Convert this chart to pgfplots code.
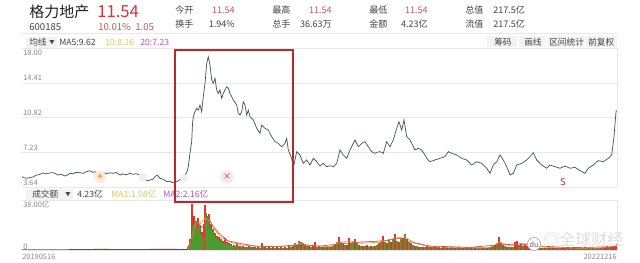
\documentclass[border=0pt]{standalone}
\usepackage{pgfplots}
\pgfplotsset{compat=1.18}
\usepackage{fontspec}
\setmainfont{Noto Sans CJK SC}
\definecolor{pline}{HTML}{4A5560}
\definecolor{gridc}{HTML}{E8E8E8}
\definecolor{titlec}{HTML}{222222}
\definecolor{bigred}{HTML}{D0363C}
\definecolor{valred}{HTML}{C8555C}
\definecolor{labc}{HTML}{444444}
\definecolor{tickc}{HTML}{8A8A8A}
\definecolor{ma10}{HTML}{D6CC5A}
\definecolor{ma20}{HTML}{B356C2}
\definecolor{rectc}{HTML}{B8282E}
\definecolor{volred}{HTML}{DA3A2C}
\definecolor{volgreen}{HTML}{4E9A2C}
\definecolor{maor}{HTML}{E8A040}
\definecolor{mard}{HTML}{D0504A}
\definecolor{btn}{HTML}{F3F3F3}
\newcommand{\fs}[1]{\fontsize{#1}{#1}\selectfont}
\begin{document}
\begin{tikzpicture}
\useasboundingbox (0,0) rectangle (480pt,197.25pt);
\fill[white] (0,0) rectangle (480pt,197.25pt);

% price panel
\begin{axis}[at={(16.5pt,57pt)}, anchor=south west, scale only axis,
  width=446.25pt, height=104pt, xmin=22, xmax=617, ymin=3.64, ymax=18,
  axis line style={draw=none}, xtick=\empty,
  ytick={3.64,7.23,10.82,14.41,18}, yticklabels={},
  ymajorgrids, major grid style={gridc, line width=0.6pt},
  major tick length=0pt, clip=false]
\addplot[pline, line width=0.55pt] coordinates {
(22,4.71)(24,4.6)(26.7,4.54)(30,4.62)(33,4.67)(36,4.85)(40,4.95)(43,5.09)(46,5.0)(50,5.1)(53,5.12)(56,5.0)(58,4.88)(61,4.95)(65,4.78)(68,4.9)(70,5.06)(73,5.0)(76,5.15)(80,5.12)(83,5.05)(86,5.2)(90,5.33)(93,5.15)(95,5.22)(98,5.1)(100,5.06)(103,5.15)(106,5.0)(110,5.12)(113,5.05)(116,5.15)(120,4.88)(123,5.0)(126,4.9)(130,5.06)(133,4.95)(136,5.02)(140,4.88)(143,4.44)(146,4.35)(148,4.29)(151,4.4)(153,4.44)(155,4.7)(157,4.88)(160,4.54)(163,4.45)(167,4.19)(170,4.25)(172,4.09)(175,4.2)(177,4.19)(180,4.4)(182,4.64)(185,4.88)(187,5.22)(188.3,5.74)(190,7.16)(191.7,8.33)(192.5,10.2)(193.3,10.92)(195,11.44)(196.7,11.79)(198.3,11.61)(200,12.13)(201.7,11.44)(203.3,12.99)(205,14.37)(206.7,16.45)(208.3,17.13)(210,16.27)(211.7,14.72)(213.3,14.37)(215,14.89)(216.7,13.68)(218.3,13.34)(220,13.68)(221.7,12.82)(223.3,13.34)(225,13.68)(226.7,14.02)(228.3,13.86)(230,13.34)(231.7,12.99)(233.3,12.65)(236.7,12.13)(238.3,11.27)(240,11.09)(241.7,11.44)(243.3,12.47)(245,12.13)(246.7,11.09)(248.3,11.61)(250,10.92)(253.3,10.58)(256.7,9.72)(260,9.2)(261.7,10.06)(265,9.72)(268.3,9.54)(271.7,8.85)(275,8.33)(278.3,8.16)(281.7,7.81)(285,8.16)(286.7,8.68)(288.3,7.47)(291.7,6.61)(293.3,5.58)(295,6.44)(296.7,7.3)(300,6.95)(303.3,6.09)(306.7,6.44)(310,5.92)(313.3,6.61)(316.7,6.26)(320,5.81)(323.3,6.09)(326.7,5.74)(330,5.85)(333.3,5.74)(336.7,6.09)(340,7.47)(343.3,6.95)(346.7,6.61)(350,7.47)(353.3,8.16)(355,8.51)(358.3,7.81)(361.7,8.16)(365,8.33)(368.3,7.81)(371.7,7.3)(375,7.13)(377.5,7.25)(380,7.3)(383.3,7.13)(386.7,8.33)(390,7.81)(393.3,8.51)(396.7,9.72)(399,10.4)(401.7,9.54)(404,10.58)(406.7,8.85)(410,8.51)(412.5,8.0)(415,7.47)(418.3,7.64)(421.7,7.47)(425,6.95)(427.5,6.5)(430,6.26)(435,6.44)(440,6.61)(445,6.78)(448.3,7.3)(451.7,7.13)(456.7,6.95)(461.7,6.61)(466.7,6.44)(471.7,5.92)(476.7,6.26)(481.7,6.09)(486.7,5.58)(490,5.06)(493.3,5.92)(496.7,6.26)(500,6.95)(503.3,6.44)(506.7,5.74)(510,4.88)(513.3,5.06)(516.7,5.92)(521.7,6.09)(526.7,6.44)(530,6.78)(533.3,7.19)(536.7,6.44)(541.7,5.92)(546.7,5.58)(550,5.92)(555,5.74)(560,5.58)(565,5.81)(570,5.58)(575,5.68)(580,5.33)(585,5.06)(588.3,5.58)(593.3,5.92)(598.3,6.37)(603.3,6.26)(608.3,6.61)(611.7,6.95)(614,8.85)(616,11.44)(617,11.54)};
\end{axis}

% volume panel
\begin{axis}[at={(16.5pt,9.75pt)}, anchor=south west, scale only axis,
  width=446.25pt, height=37.5pt, xmin=22, xmax=617, ymin=0, ymax=38,
  axis line style={draw=none}, xtick=\empty,
  ytick={0,38}, yticklabels={},
  ymajorgrids, major grid style={gridc, line width=0.6pt},
  major tick length=0pt, clip=false]
\addplot[fill=volred!80!black, draw=none] coordinates {(22,0)(22,0.4)(60,0.5)(100,0.8)(140,0.6)(160,0.9)(185,0.7)(200,1.2)(300,1.5)(450,1.2)(617,1.5)(617,0)} \closedcycle;
\addplot[fill=volgreen!90, draw=none] coordinates {(290,0)(290,1.5)(300,3)(320,2)(340,3)(360,2.5)(380,3)(400,3.5)(420,1.8)(440,1.5)(480,1.2)(495,2.5)(505,2.5)(520,2)(540,1.5)(560,1)(560,0)} \closedcycle;
\addplot[ycomb, draw=volred, line width=1.45pt] coordinates {
(188,2)(190,8)(192,35)(194,26)(196,22)(198,24)(200,19)(202,14)(204,20)(205,34)(207,26)(209,27)(211,20)(213,16)(215,13)(217,11)(219,10)(221,8)(223,7)(225,9)(227,6)(229,5)(231,4.5)(234,4)(237,5)(240,3)(243,3)(246,2.5)(249,3)(252,2.5)(255,2)(258,2)(262,5)(265,2)(269,2)(273,2)(277,2)(281,2)(285,2.5)(289,4)(293,3)(297,4)(301,6)(305,4)(309,3)(313,3)(315,6)(319,3)(323,2.5)(327,2)(331,2)(335,4)(339,9.5)(343,5)(347,4)(349,9)(355,8)(359,4)(363,3)(367,4)(371,3)(375,3)(379,5)(383,10.5)(387,5)(391,6)(395,12)(399,6)(403,9)(407,8)(411,5)(415,3)(419,2.5)(423,2)(427,3)(431,2)(435,3)(439,2)(443,3)(447,2)(451,2)(455,1.5)(459,2)(463,1.2)(467,1.2)(471,1.2)(475,1.2)(479,1)(483,1.2)(487,1.5)(491,2)(495,4)(499,9.5)(503,4)(507,2)(511,1.5)(515,6)(517,6.5)(521,5)(525,4)(527,3)(529,5)(533,6)(537,2)(541,1.5)(545,1.5)(549,1.2)(553,1.2)(557,1.2)(561,1.5)(565,1.2)(569,1)(573,1)(577,1.2)(581,1.5)(585,2.5)(589,1.5)(593,1.5)(597,1.5)(601,1.5)(605,2)(607,3)(611,2.5)(613,2)(615,4)(616.5,4.23)};
\addplot[ycomb, draw=volgreen, line width=1.45pt] coordinates {
(189,4)(191,5)(193,18)(195,20)(197,16)(199,18)(201,12)(203,9)(206,28)(208,22)(210,17)(212,15)(214,12)(216,9)(218,8)(220,6)(222,6)(224,5)(226,5)(228,4)(230,3.5)(232,3)(235,3)(238,3)(241,2.5)(244,2)(247,2)(250,2)(253,2)(256,1.5)(260,1.5)(263,2)(267,1.5)(271,1.5)(275,1.5)(279,1.5)(283,1.5)(287,1.5)(291,2)(295,5)(299,7)(303,5)(307,3)(311,2)(317,2)(321,2)(325,2)(329,2)(333,3)(337,6)(341,6)(345,4)(351,5)(353,6)(357,5)(361,3)(365,3)(369,2.5)(373,2.5)(377,4)(381,7)(385,6)(389,8)(393,8)(397,7)(401,8)(405,12.5)(409,6)(413,4)(417,3)(421,2)(425,2)(429,2)(433,2)(437,2)(441,1.5)(445,2)(449,1.5)(453,1.5)(457,1.5)(461,1.5)(465,1.5)(469,1.2)(473,1)(477,1)(481,1)(485,1)(489,2)(493,3)(497,5)(501,6)(505,3)(509,2)(513,2)(519,4)(523,3)(531,4)(535,3)(539,2)(543,1.5)(547,1.2)(551,1)(555,1)(559,1.2)(563,1)(567,1)(571,1.2)(575,1)(579,1)(583,1)(587,1.2)(591,1.2)(595,1.5)(599,1.2)(603,2)(609,2)};
\addplot[maor, line width=0.5pt] coordinates {(188,1)(192,10)(196,21)(200,20)(205,24)(210,22)(215,15)(220,10)(230,6)(240,4)(260,2.5)(290,3)(300,5)(310,3.5)(330,2.5)(340,6)(350,7)(360,5)(380,6)(395,9)(405,10)(415,5)(430,2.5)(460,1.8)(490,2)(500,6)(510,3)(520,5)(530,4.5)(545,2)(580,1.3)(600,1.6)(617,3)};
\addplot[mard, line width=0.5pt] coordinates {(188,1)(193,14)(198,20)(203,17)(208,25)(213,18)(220,12)(228,7)(240,5)(255,3)(275,2.5)(300,4)(320,3)(345,5)(360,6)(385,7)(400,9)(412,6)(430,3)(470,2)(500,4)(520,4.5)(540,3)(570,1.8)(617,2.5)};
\end{axis}

% overlay in pixel coordinates
\begin{scope}[x=0.75pt, y=-0.75pt, shift={(0pt,197.25pt)}]
% borders
\draw[gridc, line width=0.5pt] (22,33) -- (617,33);
\draw[gridc, line width=0.6pt] (22,48.3) -- (617,48.3);
\draw[gridc, line width=0.6pt] (617,48.3) -- (617,187);
\draw[gridc, line width=0.6pt] (617,200) -- (617,250);
% header
\node[anchor=west, inner sep=0, text=titlec, font=\fs{11.25}] at (29,11.5) {格力地产};
\node[anchor=west, inner sep=0, text=bigred, font=\fs{12.5}] at (97,11.5) {11.54};
\node[anchor=west, inner sep=0, text=labc, font=\fs{7.2}] at (29,27) {600185};
\node[anchor=west, inner sep=0, text=valred, font=\fs{7.2}] at (98,27) {10.01\%};
\node[anchor=west, inner sep=0, text=valred, font=\fs{7.2}] at (135,27) {1.05};
\foreach \lab/\xx/\yy in {今开/175/10.5, 换手/175/24.5, 最高/272/10.5, 总手/272/24.5, 最低/369/10.5, 金额/369/24.5, 总值/465/10.5, 流值/465/24.5}
  \node[anchor=west, inner sep=0, text=labc, font=\fs{6.8}] at (\xx,\yy) {\lab};
\node[anchor=east, inner sep=0, text=valred, font=\fs{6.8}] at (235,10.5) {11.54};
\node[anchor=east, inner sep=0, text=labc, font=\fs{6.8}] at (235,24.5) {1.94\%};
\node[anchor=east, inner sep=0, text=valred, font=\fs{6.8}] at (332,10.5) {11.54};
\node[anchor=east, inner sep=0, text=labc, font=\fs{6.8}] at (332,24.5) {36.63万};
\node[anchor=east, inner sep=0, text=valred, font=\fs{6.8}] at (428,10.5) {11.54};
\node[anchor=east, inner sep=0, text=labc, font=\fs{6.8}] at (428,24.5) {4.23亿};
\node[anchor=west, inner sep=0, text=labc, font=\fs{6.8}] at (493,10.5) {217.5亿};
\node[anchor=west, inner sep=0, text=labc, font=\fs{6.8}] at (493,24.5) {217.5亿};
% control row
\fill[btn] (26,37) rectangle (57,48);
\node[anchor=west, inner sep=0, text=labc, font=\fs{6.5}] at (29,42.5) {均线};
\node[inner sep=0, text=labc, font=\fs{4}] at (52,42.5) {▼};
\node[anchor=west, inner sep=0, text=labc, font=\fs{6.5}] at (59,42.5) {MA5:9.62};
\node[anchor=west, inner sep=0, text=ma10, font=\fs{6.5}] at (105,42.5) {10:8.16};
\node[anchor=west, inner sep=0, text=ma20, font=\fs{6.5}] at (140,42.5) {20:7.23};
\fill[btn] (487,36) rectangle (617,47.5);
\draw[white, line width=0.8pt] (518,36) -- (518,47.5) (546,36) -- (546,47.5) (585,36) -- (585,47.5);
\node[anchor=west, inner sep=0, text=labc, font=\fs{6.5}] at (494,41.8) {筹码};
\node[anchor=west, inner sep=0, text=labc, font=\fs{6.5}] at (524,41.8) {画线};
\node[anchor=west, inner sep=0, text=labc, font=\fs{6.5}] at (549,41.8) {区间统计};
\node[anchor=west, inner sep=0, text=labc, font=\fs{6.5}] at (588,41.8) {前复权};
% price tick labels
\node[anchor=west, inner sep=0, text=tickc, font=\fs{5.6}] at (23,53.3) {18.00};
\node[anchor=west, inner sep=0, text=tickc, font=\fs{5.6}] at (23,78.3) {14.41};
\node[anchor=west, inner sep=0, text=tickc, font=\fs{5.6}] at (23,112.7) {10.82};
\node[anchor=west, inner sep=0, text=tickc, font=\fs{5.6}] at (23,147.7) {7.23};
\node[anchor=west, inner sep=0, text=tickc, font=\fs{5.6}] at (23,183) {3.64};
% markers on price line
\fill[orange!15] (100,177) circle (6);
\node[inner sep=0, text=orange!80!red, font=\fs{8}] at (100,177) {+};
\fill[black!6] (143,177) circle (4.5);
\fill[black!6] (184,178) circle (4);
\fill[red!10] (227,177) circle (6.5);
\node[inner sep=0, text=black!70, font=\fs{6}] at (227,177) {×};
\node[inner sep=0, text=rectc, font=\fs{7}] at (563,182) {S};
% volume header
\fill[btn] (26,189.5) rectangle (73,200);
\node[anchor=west, inner sep=0, text=labc, font=\fs{6.5}] at (32,194.5) {成交额};
\node[inner sep=0, text=labc, font=\fs{4}] at (68,194.5) {▼};
\node[anchor=west, inner sep=0, text=labc, font=\fs{6.5}] at (77,194.5) {4.23亿};
\node[anchor=west, inner sep=0, text=ma10, font=\fs{6.5}] at (111,194.5) {MA1:1.08亿};
\node[anchor=west, inner sep=0, text=ma20, font=\fs{6.5}] at (163,194.5) {MA2:2.16亿};
\node[anchor=west, inner sep=0, text=tickc, font=\fs{5.6}] at (23,204.5) {38.00亿};
\node[anchor=west, inner sep=0, text=tickc, font=\fs{5.6}] at (23,246.5) {0};
\node[anchor=west, inner sep=0, text=tickc, font=\fs{5.6}] at (22,256.5) {20190516};
\node[anchor=east, inner sep=0, text=tickc, font=\fs{5.6}] at (617,256.5) {20221216};
% watermark
\draw[black!35, line width=0.5pt, fill=white] (534,244) circle (6.5);
\node[inner sep=0, text=black!60, font=\fs{5.5}] at (534,244.5) {du};
\node[anchor=west, inner sep=0, text=black!13, font=\fs{12}] at (543,239) {◎全球财经};
% red highlight rectangle
\draw[rectc, line width=1.1pt] (175,50) rectangle (293,202);
\end{scope}
\end{tikzpicture}
\end{document}
